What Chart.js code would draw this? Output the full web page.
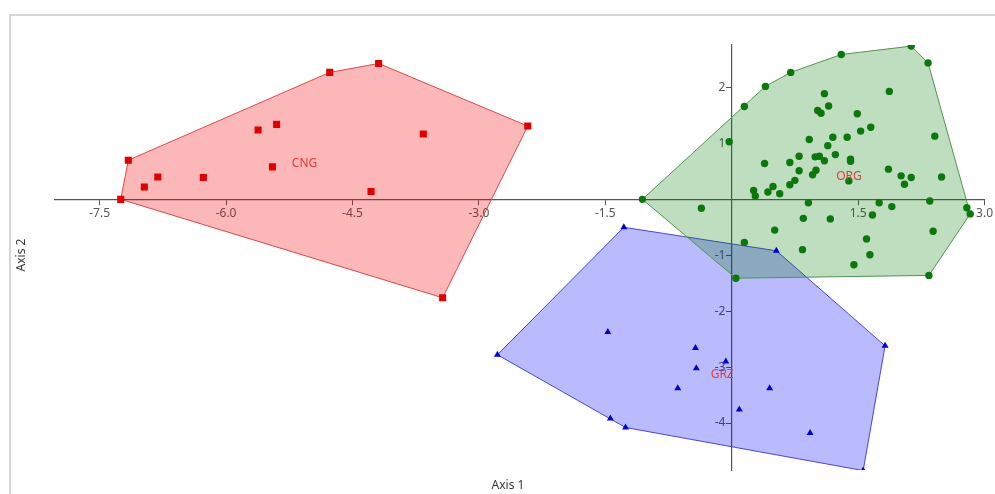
<!DOCTYPE html>
<html>
<head>
<meta charset="utf-8">
<script src="https://cdn.jsdelivr.net/npm/chart.js@4.4.0/dist/chart.umd.min.js"></script>
<style>
  html, body { margin: 0; padding: 0; background: #fff; }
  #wrap { width: 995px; height: 494px; }
</style>
</head>
<body>
<div id="wrap"><canvas id="chart" width="995" height="494"></canvas></div>
<script>
// --- DONNÉES ---
const groupNames = ['CNG', 'ORG', 'GRZ'];

const cngPoints = [
    [-7.25, 0.00], [-7.16, 0.70], [-6.97, 0.22], [-6.81, 0.40], [-6.27, 0.39],
    [-5.62, 1.24], [-5.40, 1.34], [-5.45, 0.58], [-4.77, 2.27], [-4.19, 2.43],
    [-3.66, 1.17], [-4.28, 0.14], [-2.42, 1.31], [-3.43, -1.76]
];

const orgPoints = [
    [-1.06, 0.00], [0.15, 1.66], [0.40, 2.02], [0.70, 2.27], [1.30, 2.59],
    [2.13, 2.74], [2.33, 2.44], [2.79, -0.15], [2.83, -0.26], [2.34, -1.36],
    [0.05, -1.41], [2.41, 1.13], [-0.03, 1.03], [-0.36, -0.16], [0.39, 0.64],
    [0.26, 0.16], [0.28, 0.06], [0.43, 0.13], [0.49, 0.23], [0.57, 0.10],
    [0.69, 0.66], [0.69, 0.26], [0.75, 0.34], [0.80, 0.51], [0.80, 0.77],
    [0.92, 1.07], [0.96, 0.44], [1.00, 0.52], [0.99, 0.76], [1.04, 0.77],
    [1.10, 0.69], [1.02, 1.59], [1.06, 1.54], [1.10, 1.89], [1.15, 1.67],
    [1.14, 0.96], [1.20, 1.11], [1.23, 0.80], [1.37, 1.11], [1.41, 0.72],
    [1.41, 0.68], [1.39, 0.33], [1.49, 1.53], [1.53, 1.22], [1.65, 1.29],
    [1.86, 0.54], [1.87, 1.93], [2.01, 0.42], [2.05, 0.27], [2.13, 0.39],
    [2.49, 0.40], [2.35, -0.03], [1.75, -0.06], [1.90, -0.13], [0.91, -0.06],
    [0.85, -0.34], [1.17, -0.35], [1.67, -0.28], [0.51, -0.55], [0.15, -0.77],
    [0.84, -0.90], [1.60, -0.71], [1.64, -0.99], [1.45, -1.17], [2.39, -0.57]
];

const grzPoints = [
    [-1.28, -0.50], [0.53, -0.92], [1.82, -2.62], [1.56, -4.85], [-1.26, -4.08],
    [-1.44, -3.92], [-2.78, -2.78], [-1.47, -2.37], [-0.43, -2.66], [-0.42, -3.02],
    [-0.07, -2.90], [-0.64, -3.38], [0.45, -3.38], [0.09, -3.76], [0.93, -4.18]
];

// position (en unités des axes) du nom de chaque groupe
const labelAnchors = [[-5.22, 0.64], [1.24, 0.41], [-0.25, -3.13]];

const xTicks = [-7.5, -6, -4.5, -3, -1.5, 1.5, 3];
const yTicks = [2, 1, -1, -2, -3, -4];
const axisTitles = ['Axis 1', 'Axis 2'];

// --- STYLES ---
const FONT = '"Noto Sans", "Open Sans", sans-serif';
const TEXT_COLOR = '#555';

const styles = [
    { marker: '#e00000', line: 'rgb(225,70,70)', fill: 'rgba(245,0,0,0.28)', pointStyle: 'rect', radius: 5 },
    { marker: '#0b780b', line: 'rgb(80,150,80)', fill: 'rgba(0,120,0,0.25)', pointStyle: 'circle', radius: 3.7 },
    { marker: '#0000d0', line: 'rgb(70,70,220)', fill: 'rgba(0,0,255,0.27)', pointStyle: 'triangle', radius: 4 }
];

// --- UTILITAIRES ---
const toXY = (pts) => pts.map(([x, y]) => ({ x, y }));

// enveloppe convexe (monotone chain), fermée
const convexHull = (pts) => {
    const p = pts.slice().sort((a, b) => a[0] - b[0] || a[1] - b[1]);
    const cross = (o, a, b) => (a[0] - o[0]) * (b[1] - o[1]) - (a[1] - o[1]) * (b[0] - o[0]);
    const lower = [];
    for (const q of p) {
        while (lower.length >= 2 && cross(lower[lower.length - 2], lower[lower.length - 1], q) <= 0) lower.pop();
        lower.push(q);
    }
    const upper = [];
    for (const q of p.slice().reverse()) {
        while (upper.length >= 2 && cross(upper[upper.length - 2], upper[upper.length - 1], q) <= 0) upper.pop();
        upper.push(q);
    }
    lower.pop();
    upper.pop();
    const hull = lower.concat(upper);
    hull.push(hull[0]);
    return hull;
};

const groups = [cngPoints, orgPoints, grzPoints];
const hullOrder = [4, 5, 6];

const datasets = [];
groups.forEach((pts, i) => {
    const s = styles[i];
    datasets.push({
        label: groupNames[i] + ' hull',
        data: toXY(convexHull(pts)),
        showLine: true,
        fill: 'shape',
        backgroundColor: s.fill,
        borderColor: s.line,
        borderWidth: 1,
        pointRadius: 0,
        tension: 0,
        order: hullOrder[i]
    });
    datasets.push({
        label: groupNames[i],
        data: toXY(pts),
        showLine: false,
        pointStyle: s.pointStyle,
        pointRadius: s.radius,
        backgroundColor: s.marker,
        borderColor: s.marker,
        borderWidth: 0,
        order: i + 1
    });
});

// fond, cadre gris, noms des groupes et titres d'axes
const decorPlugin = {
    id: 'decor',
    beforeDraw(chart) {
        const { ctx, width, height } = chart;
        ctx.save();
        ctx.fillStyle = '#fff';
        ctx.fillRect(0, 0, width, height);
        ctx.strokeStyle = '#d6d6d6';
        ctx.lineWidth = 2;
        ctx.beginPath();
        ctx.moveTo(10, height);
        ctx.lineTo(10, 15);
        ctx.lineTo(width, 15);
        ctx.stroke();
        ctx.restore();
    },
    afterDraw(chart) {
        const { ctx, scales: { x, y } } = chart;
        ctx.save();
        ctx.font = '12px ' + FONT;
        ctx.fillStyle = '#e03c3c';
        ctx.textAlign = 'left';
        ctx.textBaseline = 'middle';
        labelAnchors.forEach(([lx, ly], i) => {
            ctx.fillText(groupNames[i], x.getPixelForValue(lx), y.getPixelForValue(ly));
        });
        ctx.fillStyle = '#333';
        ctx.textAlign = 'center';
        ctx.fillText(axisTitles[0], 508, 486);
        ctx.translate(22, 255);
        ctx.rotate(-Math.PI / 2);
        ctx.fillText(axisTitles[1], 0, 0);
        ctx.restore();
    }
};

const axisCommon = {
    type: 'linear',
    grid: { display: true, drawOnChartArea: false, drawTicks: true, tickLength: 5, color: '#555', lineWidth: 1 },
    border: { display: true, color: '#555', width: 1.2 }
};

new Chart(document.getElementById('chart'), {
    type: 'scatter',
    data: { datasets },
    options: {
        responsive: false,
        animation: false,
        events: [],
        layout: { padding: { left: 55, right: 9, top: 45, bottom: 24 } },
        plugins: { legend: { display: false }, tooltip: { enabled: false } },
        scales: {
            x: {
                ...axisCommon,
                min: -8.03,
                max: 3.0,
                position: { y: 0 },
                afterBuildTicks: (axis) => { axis.ticks = xTicks.map(v => ({ value: v })); },
                ticks: {
                    autoSkip: false, maxRotation: 0, padding: 2,
                    color: TEXT_COLOR, font: { family: FONT, size: 12 },
                    callback: (v) => Number(v).toFixed(1)
                }
            },
            y: {
                ...axisCommon,
                min: -4.84,
                max: 2.76,
                position: { x: 0 },
                afterBuildTicks: (axis) => { axis.ticks = yTicks.map(v => ({ value: v })); },
                ticks: {
                    autoSkip: false, padding: 3,
                    color: TEXT_COLOR, font: { family: FONT, size: 12 },
                    // l'étiquette est alignée sur l'axe : deux espaces pour la décaler du trait
                    callback: (v) => String(v) + '  '
                }
            }
        }
    },
    plugins: [decorPlugin]
});
</script>
</body>
</html>
